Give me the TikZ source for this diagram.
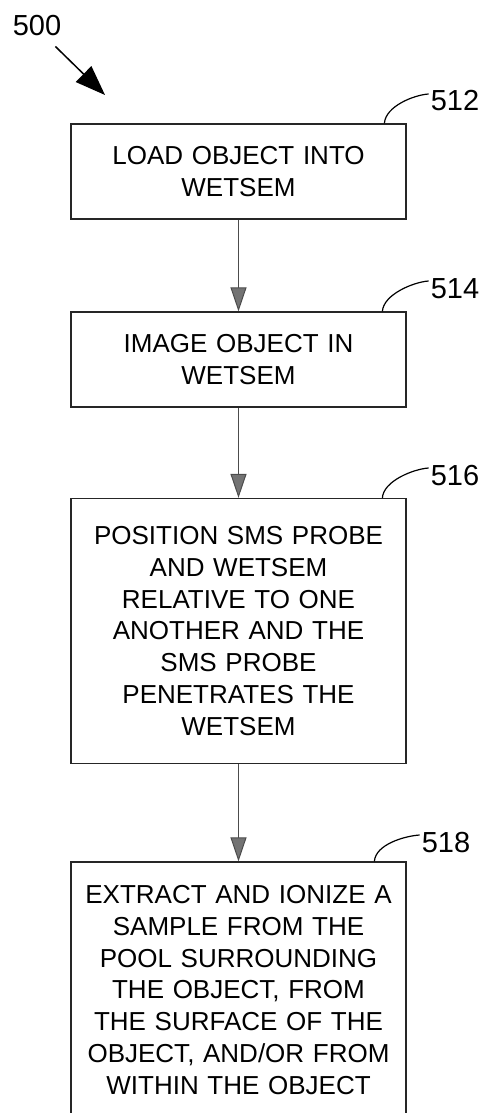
\documentclass[tikz,border=0pt]{standalone}
\usepackage{fontspec}
\setmainfont{Liberation Sans}
\usetikzlibrary{arrows.meta,calc}
\begin{document}
\begin{tikzpicture}[x=1pt,y=-1pt]
\tikzset{
  stepbox/.style={draw=black!85, line width=1.2pt, minimum width=335pt,
    text width=320pt, align=center, inner sep=0pt,
    font=\fontsize{26}{31.7}\selectfont},
  reflabel/.style={font=\fontsize{29}{34}\selectfont, inner sep=0pt},
  flow/.style={draw=black!70, line width=1pt,
    -{Triangle[length=24pt,width=16pt,fill=black!55,color=black!70]}},
  leader/.style={draw=black, line width=1.2pt},
  pointer/.style={draw=black, line width=1.5pt,
    -{Triangle[length=30pt,width=22pt]}},
}
\useasboundingbox (0,0) rectangle (490,1113);

% process steps
\node[stepbox, minimum height=95pt]  (b1) at (238.5,171.5) {LOAD OBJECT INTO\\WETSEM};
\node[stepbox, minimum height=95pt]  (b2) at (238.5,359.5) {IMAGE OBJECT IN\\WETSEM};
\node[stepbox, minimum height=265pt] (b3) at (238.5,631)
  {POSITION SMS PROBE\\AND WETSEM\\RELATIVE TO ONE\\ANOTHER AND THE\\SMS PROBE\\PENETRATES THE\\WETSEM};
\node[stepbox, minimum height=256pt] (b4) at (238.5,990)
  {EXTRACT AND IONIZE A\\SAMPLE FROM THE\\POOL SURROUNDING\\THE OBJECT, FROM\\THE SURFACE OF THE\\OBJECT, AND/OR FROM\\WITHIN THE OBJECT};

% flow arrows
\draw[flow] (b1.south) -- (b2.north);
\draw[flow] (b2.south) -- (b3.north);
\draw[flow] (b3.south) -- (b4.north);

% reference numerals
\node[reflabel] (l500) at (37,26)    {500};
\node[reflabel] (l512) at (455,101)  {512};
\node[reflabel] (l514) at (455,289)  {514};
\node[reflabel] (l516) at (455,476)  {516};
\node[reflabel] (l518) at (446,843)  {518};

\coordinate (tip500) at (105,95);
\draw[pointer] ($(l500.south east)+(-6,10)$) -- (tip500);

% leader lines
\draw[leader] ($(b1.north west)+(314,0)$) .. controls +(1,-17) and +(-15,1) .. ($(l512.west)+(-2,-7)$);
\draw[leader] ($(b2.north west)+(312,0)$) .. controls +(1,-17) and +(-15,1) .. ($(l514.west)+(-2,-8)$);
\draw[leader] ($(b3.north west)+(312,0)$) .. controls +(1,-17) and +(-15,1) .. ($(l516.west)+(-2,-8)$);
\draw[leader] ($(b4.north west)+(304,0)$) .. controls +(1,-17) and +(-15,1) .. ($(l518.west)+(-2,-8)$);
\end{tikzpicture}
\end{document}
